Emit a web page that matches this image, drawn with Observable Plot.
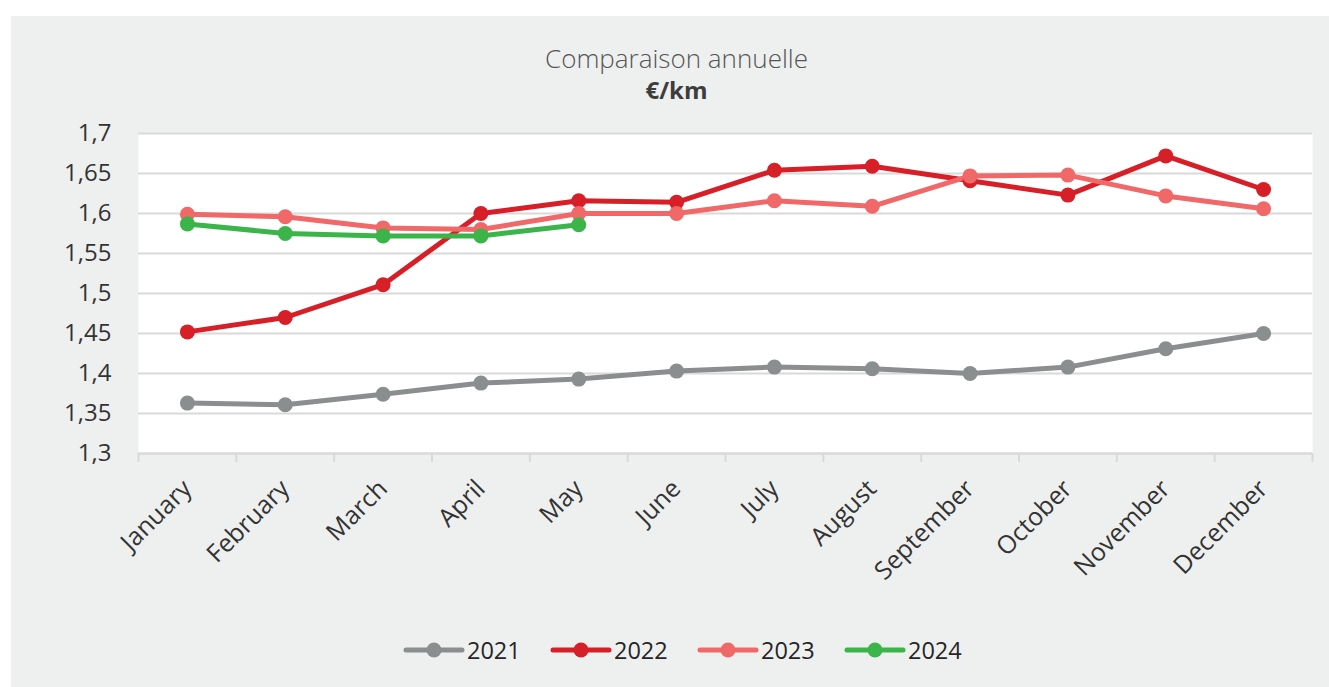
<!DOCTYPE html>
<html>
<head>
<meta charset="utf-8">
<script src="https://cdn.jsdelivr.net/npm/d3@7"></script>
<script src="https://cdn.jsdelivr.net/npm/@observablehq/plot@0.6"></script>
<style>
  html, body { margin: 0; padding: 0; background: #ffffff; }
  body { width: 1329px; height: 687px; position: relative; overflow: hidden; font-family: "Open Sans", sans-serif; }
  #panel { position: absolute; left: 11px; top: 16px; width: 1318px; height: 671px; background: #eef0ef; }
  .title { position: absolute; left: 0; width: 1353px; text-align: center; line-height: 26px; }
  #t1 { top: 45px; font-size: 26px; font-weight: 300; color: #555555; }
  #t2 { top: 77px; font-size: 24px; font-weight: 700; color: #3d3d3d; }
  #chart { position: absolute; left: 0; top: 0; }
  #legend { position: absolute; top: 634px; left: 403px; display: flex; align-items: center; font-size: 23.5px; color: #262626; }
  #legend .item { display: flex; align-items: center; width: 147px; }
  #legend svg { display: block; margin-right: 2px; }
</style>
</head>
<body>
<div id="panel"></div>
<div class="title" id="t1">Comparaison annuelle</div>
<div class="title" id="t2">€/km</div>
<div id="chart"></div>
<div id="legend"></div>
<script>
const months = ["January","February","March","April","May","June","July","August","September","October","November","December"];
const years = ["2021","2022","2023","2024"];
const colors = ["#8b8e8f","#d71f28","#f16869","#3bb44a"];
const v2021 = [1.363,1.361,1.374,1.388,1.393,1.403,1.408,1.406,1.400,1.408,1.431,1.450];
const v2022 = [1.452,1.470,1.511,1.600,1.616,1.614,1.654,1.659,1.641,1.623,1.672,1.630];
const v2023 = [1.599,1.596,1.582,1.580,1.600,1.600,1.616,1.609,1.647,1.648,1.622,1.606];
const v2024 = [1.587,1.575,1.572,1.572,1.586];
const yTicks = [1.3,1.35,1.4,1.45,1.5,1.55,1.6,1.65,1.7];

const series = [v2021, v2022, v2023, v2024];
const rows = [];
series.forEach((vals, si) => vals.forEach((v, i) => rows.push({year: years[si], m: i + 1, v})));
const monthIdx = months.map((_, i) => i + 1);
const bounds = d3.range(0, months.length + 1).map(i => i + 0.5);
const fmt = d => String(+d.toFixed(2)).replace(".", ",");

const chart = Plot.plot({
  width: 1329,
  height: 600,
  marginLeft: 138,
  marginRight: 17,
  marginTop: 133,
  marginBottom: 147,
  style: {background: "transparent", fontFamily: "Open Sans, sans-serif", color: "#333333"},
  x: {type: "linear", domain: [0.5, months.length + 0.5], axis: null, label: null},
  y: {domain: [1.3, 1.7], axis: null, label: null},
  color: {domain: years, range: colors},
  marks: [
    Plot.frame({fill: "white", stroke: null}),
    Plot.gridY(yTicks, {stroke: "#d9d9d9", strokeOpacity: 1, strokeWidth: 2}),
    Plot.ruleY([1.3], {stroke: "#d9d9d9", strokeWidth: 2}),
    Plot.axisX(bounds, {tickSize: 9, tickFormat: () => "", stroke: "#d9d9d9", strokeWidth: 2, label: null}),
    Plot.axisX(monthIdx, {tickSize: 0, tickPadding: 31, tickRotate: -45, tickFormat: i => months[i - 1], fontSize: 25, fill: "#333333", label: null}),
    Plot.axisY(yTicks, {tickSize: 0, tickPadding: 27, tickFormat: fmt, fontSize: 24, fill: "#333333", label: null}),
    Plot.line(rows, {x: "m", y: "v", z: "year", stroke: "year", strokeWidth: 5, strokeLinejoin: "round", strokeLinecap: "round"}),
    Plot.dot(rows, {x: "m", y: "v", fill: "year", r: 7.5, stroke: null})
  ]
});
document.getElementById("chart").appendChild(chart);

const legend = document.getElementById("legend");
years.forEach((y, i) => {
  const item = document.createElement("div");
  item.className = "item";
  item.innerHTML = `<svg width="62" height="18"><line x1="3" y1="9" x2="59" y2="9" stroke="${colors[i]}" stroke-width="5" stroke-linecap="round"/><circle cx="31" cy="9" r="7.5" fill="${colors[i]}"/></svg><span>${y}</span>`;
  legend.appendChild(item);
});
</script>
</body>
</html>
